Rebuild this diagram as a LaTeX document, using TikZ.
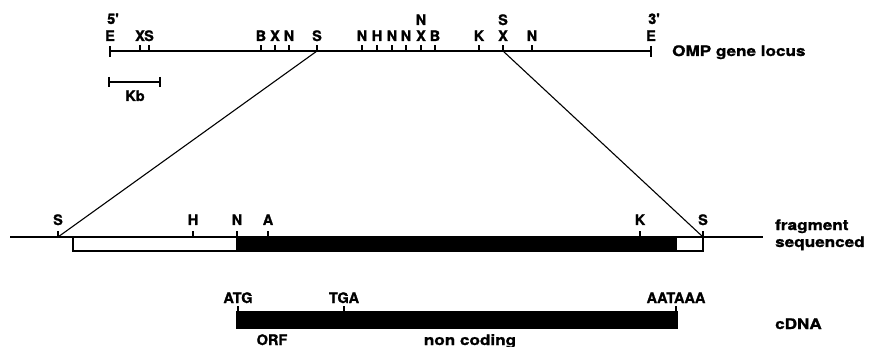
\documentclass[tikz,border=0pt]{standalone}
\usepackage{fontspec}
\setmainfont{TeX Gyre Heros}
\newfontfamily\heavyfont[BoldFeatures={FakeBold=1.3}]{TeX Gyre Heros}
\newfontfamily\widefont[FakeStretch=1.18, BoldFeatures={FakeBold=1.3}]{TeX Gyre Heros}
\begin{document}
\begin{tikzpicture}[x=1pt,y=-1pt,
  site/.style={font=\fontsize{14.5}{14.5}\selectfont\heavyfont\bfseries, anchor=base, inner sep=0pt},
  word/.style={font=\fontsize{14.5}{16}\selectfont\widefont\bfseries, anchor=base west, inner sep=0pt},
  wordc/.style={word, anchor=base},
  locus/.style={line width=2pt},
  dna/.style={line width=1.3pt},
  tick/.style={line width=1.3pt},
  link/.style={line width=1.1pt},
  blank/.style={draw, line width=1.3pt, fill=white},
  solid block/.style={draw, line width=1.3pt, fill=black}]
\useasboundingbox (0,0) rectangle (869,347);

% ---------- genomic locus ----------
\coordinate (L5) at (110,51);
\coordinate (L3) at (651,51);
\draw[locus] (L5) -- (L3);
\draw[tick] (110,46) -- (110,57);
\draw[tick] (651,46) -- (651,57);
\node[site] (E5) at (110,41) {E};
\node[site] (E3) at (651,41) {E};
\node[site] (p5) at (113,24) {5'};
\node[site] (p3) at (654,24) {3'};
\foreach \x/\l [count=\i] in {140/X,149/S,261/B,275/X,289/N,317/S,362/N,377/H,392/N,406/N,421/X,435/B,479/K,503/X,532/N}{
  \coordinate (g\i) at (\x,51);
  \draw[tick] (g\i) -- ++(0,-6);
  \node[site] (gl\i) at (\x,41) {\l};
}
\node[site] (gN2) at (421,25) {N};
\node[site] (gS2) at (503,25) {S};
\node[word] (omp) at (672,56) {OMP gene locus};

% scale bar
\coordinate (kb1) at (109,82);
\coordinate (kb2) at (160,82);
\draw[dna] (kb1) -- (kb2);
\draw[tick] (109,77) -- (109,87);
\draw[tick] (160,77) -- (160,87);
\node[site] (kb) at (135,101) {Kb};

% ---------- sequenced fragment ----------
\coordinate (F0) at (10,237);
\coordinate (F1) at (763,237);
\draw[dna] (F0) -- (F1);
\draw[blank] (73,237) rectangle (237,251);
\draw[solid block] (237,237) rectangle (676,251);
\draw[blank] (676,237) rectangle (703,251);
\foreach \x/\l [count=\i] in {58/S,193/H,237/N,268/A,640/K,703/S}{
  \coordinate (f\i) at (\x,237);
  \draw[tick] (f\i) -- ++(0,-6);
  \node[site] (fl\i) at (\x,225) {\l};
}
\node[word] (frag) at (775,230) {fragment};
\node[word] (seq) at (775,247) {sequenced};

% expansion lines from the Sal sites
\draw[link] (g6) -- (f1);
\draw[link] (g14) -- (f6);

% ---------- cDNA ----------
\draw[solid block] (237,312) rectangle (677,328);
\foreach \x/\l [count=\i] in {238/ATG,344/TGA,676/AATAAA}{
  \coordinate (c\i) at (\x,312);
  \draw[tick] (c\i) -- ++(0,-6);
  \node[site] (cl\i) at (\x,303) {\l};
}
\node[word] (cdna) at (775,329) {cDNA};
\node[site] (orf) at (272,345) {ORF};
\node[wordc] (nc) at (470,345) {non coding};
\end{tikzpicture}
\end{document}
